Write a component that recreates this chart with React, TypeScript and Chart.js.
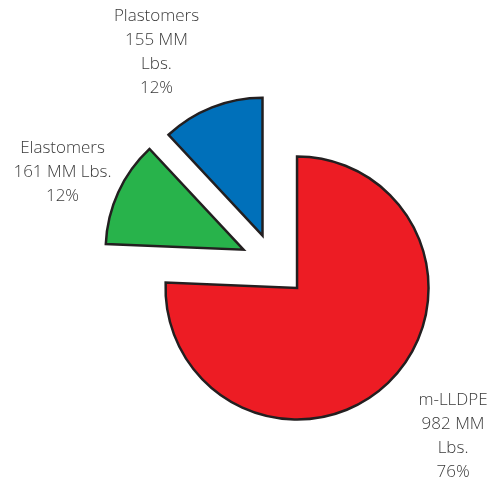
import React, { useEffect, useRef } from "react";
import { Chart, registerables } from "chart.js";

Chart.register(...registerables);

// ---- data ----
const categories = ["m-LLDPE", "Elastomers", "Plastomers"];
const valuesMMLbs = [982, 161, 155];
const unitWrap = [true, false, true]; // whether "MM" and "Lbs." go on separate lines

// ---- styles ----
const sliceColors = ["#ED1C24", "#28B34B", "#0070BA"];
const borderColor = "#231F20";
const explodeDistance = [34, 33, 30];
const radiusScale = [1, 1.048, 1.048];
// label anchor (centre x, first baseline y) relative to each exploded slice's centre
const labelOffsets: [number, number][] = [
  [156, 117],
  [-181, -97],
  [-106, -215],
];
const labelFont = '300 17px "Open Sans", Lato, sans-serif';
const labelColor = "#3a3a3a";
const lineHeight = 24;

const total = valuesMMLbs.reduce((a, b) => a + b, 0);
const labelLines = categories.map((c, i) => {
  const pct = Math.round((valuesMMLbs[i] / total) * 100) + "%";
  const qty = unitWrap[i]
    ? [`${valuesMMLbs[i]} MM`, "Lbs."]
    : [`${valuesMMLbs[i]} MM Lbs.`];
  return [c, ...qty, pct];
});

const explodePlugin = {
  id: "explode",
  afterDatasetsUpdate(chart: any) {
    const meta = chart.getDatasetMeta(0);
    meta.data.forEach((arc: any, i: number) => {
      const mid = (arc.startAngle + arc.endAngle) / 2;
      arc.x += Math.cos(mid) * explodeDistance[i];
      arc.y += Math.sin(mid) * explodeDistance[i];
      arc.outerRadius *= radiusScale[i];
    });
  },
};

const labelPlugin = {
  id: "sliceLabels",
  afterDraw(chart: any) {
    const ctx = chart.ctx as CanvasRenderingContext2D;
    const meta = chart.getDatasetMeta(0);
    ctx.save();
    ctx.font = labelFont;
    ctx.fillStyle = labelColor;
    ctx.textAlign = "center";
    ctx.textBaseline = "alphabetic";
    meta.data.forEach((arc: any, i: number) => {
      const [dx, dy] = labelOffsets[i];
      labelLines[i].forEach((line, j) => {
        ctx.fillText(line, arc.x + dx, arc.y + dy + j * lineHeight);
      });
    });
    ctx.restore();
  },
};

export default function App() {
  const ref = useRef<HTMLCanvasElement | null>(null);
  useEffect(() => {
    if (!ref.current) return;
    const chart = new Chart(ref.current, {
      type: "pie",
      data: {
        labels: categories,
        datasets: [
          {
            data: valuesMMLbs,
            backgroundColor: sliceColors,
            borderColor: borderColor,
            borderWidth: 2.5,
            borderJoinStyle: "miter",
            radius: 131.5,
          } as any,
        ],
      },
      options: {
        responsive: false,
        animation: false,
        layout: { padding: { left: 54, top: 46, right: 0, bottom: 0 } },
        plugins: {
          legend: { display: false },
          tooltip: { enabled: false },
        },
        events: [],
      },
      plugins: [explodePlugin, labelPlugin],
    });
    return () => chart.destroy();
  }, []);
  return (
    <div style={{ position: "absolute", left: 0, top: 0, width: 493, height: 481, background: "#fff" }}>
      <canvas ref={ref} width={493} height={481} style={{ display: "block" }} />
    </div>
  );
}
